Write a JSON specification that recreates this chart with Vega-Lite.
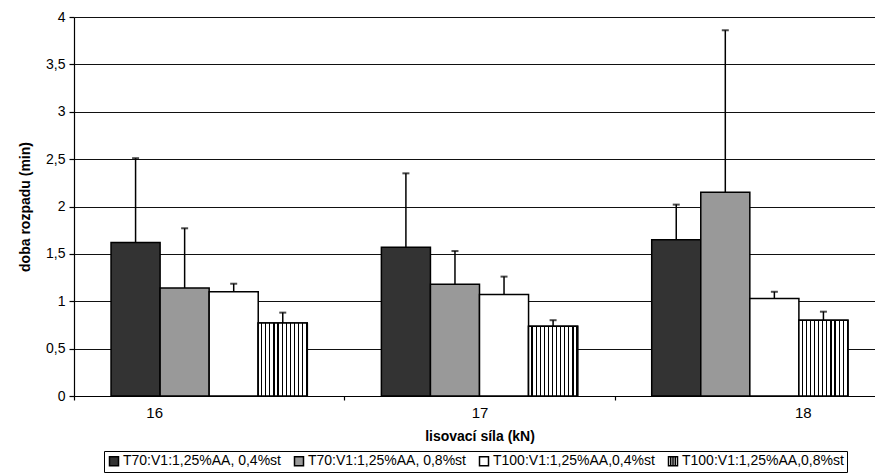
{
  "$schema": "https://vega.github.io/schema/vega-lite/v6.json",
  "width": 801,
  "height": 379,
  "autosize": {"type": "none"},
  "padding": {"left": 74, "top": 17, "right": 0, "bottom": 78},
  "background": "white",
  "config": {
    "font": "Liberation Sans",
    "view": {"stroke": null},
    "axis": {"labelColor": "black", "titleColor": "black", "domainColor": "black", "tickColor": "black", "domainWidth": 1.2, "tickWidth": 1.2}
  },
  "data": {
    "values": [
      {"sila": "16", "serie": "T70:V1:1,25%AA, 0,4%st", "doba": 1.62, "horni": 2.51},
      {"sila": "16", "serie": "T70:V1:1,25%AA, 0,8%st", "doba": 1.14, "horni": 1.77},
      {"sila": "16", "serie": "T100:V1:1,25%AA,0,4%st", "doba": 1.10, "horni": 1.185},
      {"sila": "16", "serie": "T100:V1:1,25%AA,0,8%st", "doba": 0.77, "horni": 0.88},
      {"sila": "17", "serie": "T70:V1:1,25%AA, 0,4%st", "doba": 1.57, "horni": 2.35},
      {"sila": "17", "serie": "T70:V1:1,25%AA, 0,8%st", "doba": 1.18, "horni": 1.53},
      {"sila": "17", "serie": "T100:V1:1,25%AA,0,4%st", "doba": 1.07, "horni": 1.26},
      {"sila": "17", "serie": "T100:V1:1,25%AA,0,8%st", "doba": 0.735, "horni": 0.80},
      {"sila": "18", "serie": "T70:V1:1,25%AA, 0,4%st", "doba": 1.65, "horni": 2.02},
      {"sila": "18", "serie": "T70:V1:1,25%AA, 0,8%st", "doba": 2.15, "horni": 3.86},
      {"sila": "18", "serie": "T100:V1:1,25%AA,0,4%st", "doba": 1.03, "horni": 1.10},
      {"sila": "18", "serie": "T100:V1:1,25%AA,0,8%st", "doba": 0.80, "horni": 0.89}
    ]
  },
  "encoding": {
    "x": {
      "field": "sila",
      "type": "nominal",
      "scale": {"range": [0, 811], "paddingInner": 0, "paddingOuter": 0},
      "axis": {
        "title": "lisovací síla (kN)",
        "titleFontSize": 14,
        "titleFontWeight": "bold",
        "titlePadding": 9,
        "labelFontSize": 15,
        "labelAngle": 0,
        "labelPadding": 5,
        "tickBand": "extent",
        "tickSize": 4,
        "grid": false,
        "labelOffset": {"expr": "datum.value == '16' ? -55 : (datum.value == '18' ? 53 : 0)"}
      }
    },
    "xOffset": {
      "field": "serie",
      "type": "nominal",
      "scale": {
        "domain": ["T70:V1:1,25%AA, 0,4%st", "T70:V1:1,25%AA, 0,8%st", "T100:V1:1,25%AA,0,4%st", "T100:V1:1,25%AA,0,8%st"],
        "paddingInner": 0,
        "paddingOuter": 0.755
      }
    }
  },
  "layer": [
    {
      "mark": {"type": "bar", "stroke": "black", "strokeWidth": 1.5},
      "encoding": {
        "y": {
          "field": "doba",
          "type": "quantitative",
          "scale": {"domain": [0, 4], "nice": false},
          "axis": {
            "values": [0, 0.5, 1, 1.5, 2, 2.5, 3, 3.5, 4],
            "labelExpr": "replace(format(datum.value, '.2~f'), '.', ',')",
            "title": "doba rozpadu (min)",
            "titleFontSize": 14,
            "titleFontWeight": "bold",
            "titlePadding": 13,
            "labelFontSize": 14,
            "labelPadding": 4,
            "tickSize": 5,
            "grid": true,
            "gridColor": "#111111",
            "gridWidth": 1
          }
        },
        "fill": {
          "field": "serie",
          "type": "nominal",
          "scale": {
            "domain": ["T70:V1:1,25%AA, 0,4%st", "T70:V1:1,25%AA, 0,8%st", "T100:V1:1,25%AA,0,4%st", "T100:V1:1,25%AA,0,8%st"],
            "range": ["#333333", "#999999", "#ffffff", "#ffffff"]
          },
          "legend": {
            "title": null,
            "orient": "none",
            "legendX": 30,
            "legendY": 434,
            "direction": "horizontal",
            "strokeColor": "black",
            "fillColor": "white",
            "padding": 3,
            "labelFontSize": 14,
            "labelColor": "black",
            "labelLimit": 0,
            "labelOffset": 2,
            "columnPadding": 10,
            "symbolType": "square",
            "symbolSize": 81,
            "symbolStrokeColor": "black",
            "symbolStrokeWidth": 1.5,
            "symbolOpacity": 1,
            "encode": {
              "symbols": {
                "update": {
                  "stroke": {"value": "black"},
                  "strokeWidth": {"value": 1.5},
                  "shape": [
                    {"test": "datum.value == 'T100:V1:1,25%AA,0,8%st'", "value": "M-1,-1H1V1H-1Z M-0.5,-1V1 M0,-1V1 M0.5,-1V1"},
                    {"value": "square"}
                  ]
                }
              }
            }
          }
        }
      }
    },
    {
      "transform": [{"filter": "datum.serie == 'T100:V1:1,25%AA,0,8%st'"}],
      "mark": {
        "type": "bar",
        "stroke": "black",
        "strokeWidth": 1.5,
        "fill": {"gradient": "linear", "x1": 0, "y1": 0, "x2": 1, "y2": 0, "stops": [
          {"offset": 0, "color": "#fff"}, {"offset": 0.058, "color": "#fff"}, {"offset": 0.058, "color": "#000"}, {"offset": 0.083, "color": "#000"},
          {"offset": 0.083, "color": "#fff"}, {"offset": 0.142, "color": "#fff"}, {"offset": 0.142, "color": "#000"}, {"offset": 0.167, "color": "#000"},
          {"offset": 0.167, "color": "#fff"}, {"offset": 0.225, "color": "#fff"}, {"offset": 0.225, "color": "#000"}, {"offset": 0.25, "color": "#000"},
          {"offset": 0.25, "color": "#fff"}, {"offset": 0.308, "color": "#fff"}, {"offset": 0.308, "color": "#000"}, {"offset": 0.333, "color": "#000"},
          {"offset": 0.333, "color": "#fff"}, {"offset": 0.392, "color": "#fff"}, {"offset": 0.392, "color": "#000"}, {"offset": 0.417, "color": "#000"},
          {"offset": 0.417, "color": "#fff"}, {"offset": 0.475, "color": "#fff"}, {"offset": 0.475, "color": "#000"}, {"offset": 0.5, "color": "#000"},
          {"offset": 0.5, "color": "#fff"}, {"offset": 0.558, "color": "#fff"}, {"offset": 0.558, "color": "#000"}, {"offset": 0.583, "color": "#000"},
          {"offset": 0.583, "color": "#fff"}, {"offset": 0.642, "color": "#fff"}, {"offset": 0.642, "color": "#000"}, {"offset": 0.667, "color": "#000"},
          {"offset": 0.667, "color": "#fff"}, {"offset": 0.725, "color": "#fff"}, {"offset": 0.725, "color": "#000"}, {"offset": 0.75, "color": "#000"},
          {"offset": 0.75, "color": "#fff"}, {"offset": 0.808, "color": "#fff"}, {"offset": 0.808, "color": "#000"}, {"offset": 0.833, "color": "#000"},
          {"offset": 0.833, "color": "#fff"}, {"offset": 0.892, "color": "#fff"}, {"offset": 0.892, "color": "#000"}, {"offset": 0.917, "color": "#000"},
          {"offset": 0.917, "color": "#fff"}, {"offset": 0.975, "color": "#fff"}, {"offset": 0.975, "color": "#000"}, {"offset": 1, "color": "#000"}
        ]}
      },
      "encoding": {
        "y": {"field": "doba", "type": "quantitative"}
      }
    },
    {
      "mark": {"type": "rule", "color": "black", "strokeWidth": 1.5},
      "encoding": {
        "y": {"field": "doba", "type": "quantitative"},
        "y2": {"field": "horni"}
      }
    },
    {
      "mark": {"type": "tick", "color": "black", "size": 7, "thickness": 2, "orient": "horizontal"},
      "encoding": {
        "y": {"field": "horni", "type": "quantitative"}
      }
    }
  ]
}
